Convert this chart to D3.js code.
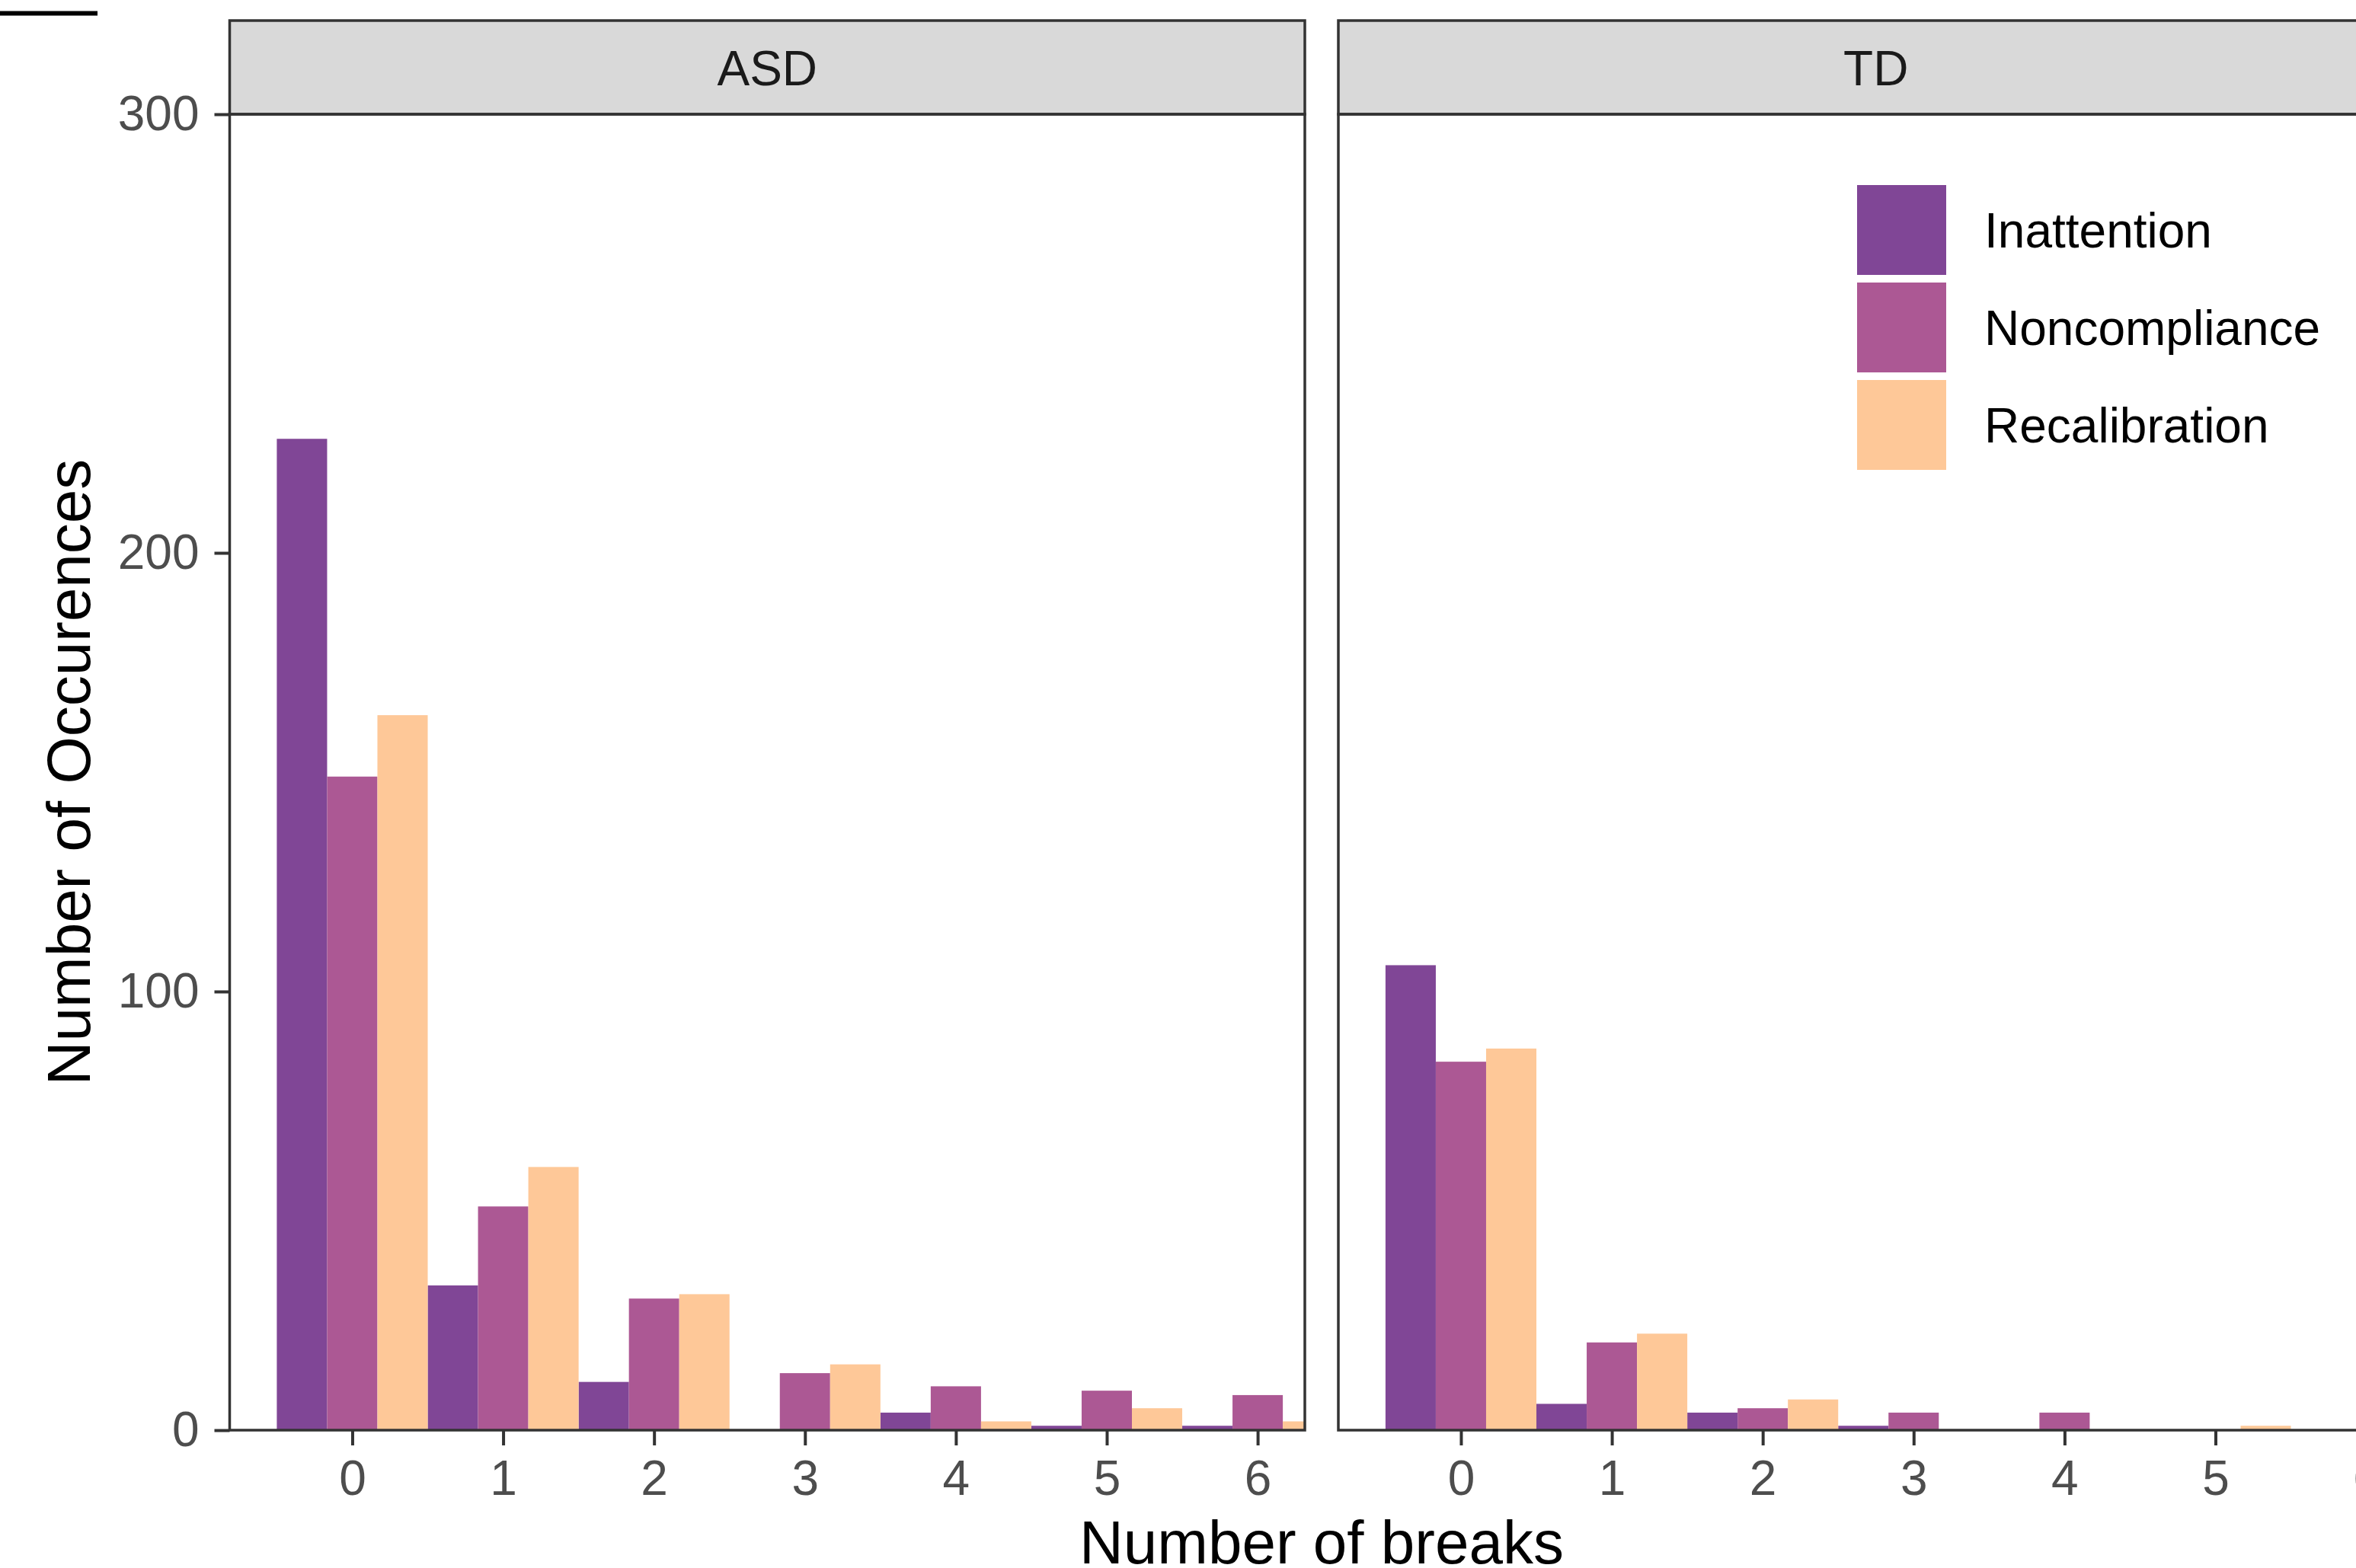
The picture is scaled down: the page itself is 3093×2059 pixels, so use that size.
<!DOCTYPE html>
<html>

<head>
    <meta charset="UTF-8">
    <script src="https://d3js.org/d3.v7.min.js"></script>
    <style>
        html, body {
            margin: 0;
            padding: 0;
            background-color: #ffffff;
            overflow: hidden;
        }

        svg text {
            font-family: 'Liberation Sans', Arial, sans-serif;
        }
    </style>
</head>

<body>
    <svg id="chart" width="3093" height="2059"></svg>
    <script>
        // values (counts per number of breaks)
        var breaks = [0, 1, 2, 3, 4, 5, 6];
        var groups = ["ASD", "TD"];
        var types = ["Inattention", "Noncompliance", "Recalibration"];
        var asdInattention = [226, 33, 11, 0, 4, 1, 1];
        var asdNoncompliance = [149, 51, 30, 13, 10, 9, 8];
        var asdRecalibration = [163, 60, 31, 15, 2, 5, 2];
        var tdInattention = [106, 6, 4, 1, 0, 0, 0];
        var tdNoncompliance = [84, 20, 5, 4, 4, 0, 0];
        var tdRecalibration = [87, 22, 7, 0, 0, 1, 0];
        var yTicks = [0, 100, 200, 300];
        var colors = ["#804696", "#ac5894", "#fec898"];

        var series = {
            ASD: [asdInattention, asdNoncompliance, asdRecalibration],
            TD: [tdInattention, tdNoncompliance, tdRecalibration]
        };

        var panelTop = 150;
        var panelBottom = 1878;
        var panelWidth = 1411.5;
        var panelLeft = [301.5, 1757];
        var stripTop = 27;

        var svg = d3.select("#chart");

        var x = d3.scaleLinear().domain([-0.8125, 6.3125]).range([0, panelWidth]);
        var y = d3.scaleLinear().domain([0, 300]).range([panelBottom - panelTop, 0]);
        var sub = d3.scaleBand().domain(types).range([-0.5, 0.5]);
        var color = d3.scaleOrdinal().domain(types).range(colors);

        // stray line in the top-left corner
        svg.append("line")
            .attr("x1", 0).attr("x2", 128)
            .attr("y1", 17.5).attr("y2", 17.5)
            .attr("stroke", "#000").attr("stroke-width", 6);

        groups.forEach(function (grp, gi) {
            var g = svg.append("g")
                .attr("transform", "translate(" + panelLeft[gi] + "," + panelTop + ")");

            g.append("clipPath").attr("id", "clip" + gi)
                .append("rect")
                .attr("width", panelWidth)
                .attr("height", panelBottom - panelTop);

            // strip
            g.append("rect")
                .attr("x", 0).attr("y", stripTop - panelTop)
                .attr("width", panelWidth).attr("height", panelTop - stripTop)
                .attr("fill", "#d9d9d9")
                .attr("stroke", "#333").attr("stroke-width", 3.5);
            g.append("text")
                .attr("x", panelWidth / 2)
                .attr("y", (stripTop - panelTop) / 2)
                .attr("dy", "0.36em")
                .attr("text-anchor", "middle")
                .attr("fill", "#1a1a1a")
                .style("font-size", "64px")
                .text(grp);

            // bars
            var rows = [];
            types.forEach(function (t, ti) {
                breaks.forEach(function (b, bi) {
                    rows.push({ type: t, brk: b, value: series[grp][ti][bi] });
                });
            });

            g.append("g").attr("clip-path", "url(#clip" + gi + ")")
                .selectAll("rect")
                .data(rows.filter(function (d) { return d.value > 0; }))
                .enter()
                .append("rect")
                .attr("x", function (d) { return x(d.brk + sub(d.type)); })
                .attr("width", x(sub.bandwidth()) - x(0))
                .attr("y", function (d) { return y(d.value); })
                .attr("height", function (d) { return y(0) - y(d.value); })
                .attr("fill", function (d) { return color(d.type); });

            // x axis
            var xAxis = g.append("g")
                .attr("transform", "translate(0," + (panelBottom - panelTop) + ")")
                .call(d3.axisBottom(x).tickValues(breaks).tickSize(20).tickPadding(20)
                    .tickFormat(d3.format("d")));
            xAxis.select(".domain").remove();
            xAxis.selectAll("line").attr("stroke", "#333").attr("stroke-width", 4);
            xAxis.selectAll("text").attr("fill", "#4d4d4d").style("font-size", "64px");

            // y axis only on the first panel
            if (gi === 0) {
                var yAxis = g.append("g")
                    .call(d3.axisLeft(y).tickValues(yTicks).tickSize(20).tickPadding(20));
                yAxis.select(".domain").remove();
                yAxis.selectAll("line").attr("stroke", "#333").attr("stroke-width", 4);
                yAxis.selectAll("text").attr("fill", "#4d4d4d").style("font-size", "64px");
            }

            // panel border
            g.append("rect")
                .attr("width", panelWidth)
                .attr("height", panelBottom - panelTop)
                .attr("fill", "none")
                .attr("stroke", "#333").attr("stroke-width", 3.5);
        });

        // axis titles
        svg.append("text")
            .attr("x", 1735).attr("y", 2053)
            .attr("text-anchor", "middle")
            .attr("fill", "#000")
            .style("font-size", "80px")
            .text("Number of breaks");

        svg.append("text")
            .attr("transform", "translate(118," + (panelTop + panelBottom) / 2 + ") rotate(-90)")
            .attr("text-anchor", "middle")
            .attr("fill", "#000")
            .style("font-size", "80px")
            .text("Number of Occurences");

        // legend
        var legend = svg.append("g").attr("transform", "translate(2438,243)");
        var item = legend.selectAll("g")
            .data(types)
            .enter()
            .append("g")
            .attr("transform", function (d, i) { return "translate(0," + i * 128 + ")"; });
        item.append("rect")
            .attr("width", 117).attr("height", 118)
            .attr("fill", function (d) { return color(d); });
        item.append("text")
            .attr("x", 167).attr("y", 59)
            .attr("dy", "0.36em")
            .attr("fill", "#000")
            .style("font-size", "64px")
            .text(function (d) { return d; });
    </script>
</body>

</html>
